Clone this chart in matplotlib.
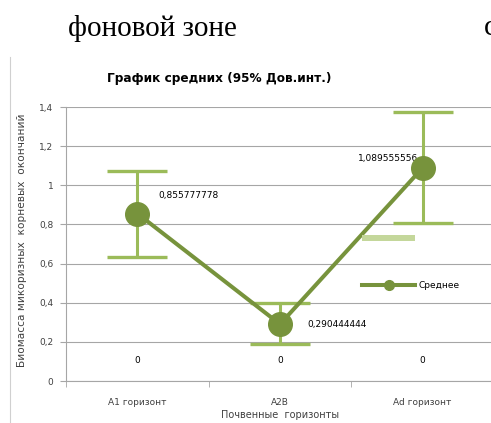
import matplotlib
matplotlib.use("Agg")
import matplotlib.pyplot as plt
from matplotlib.lines import Line2D
from matplotlib.patches import Patch

# Данные графика
categories = ["A1 горизонт", "A2B", "Ad горизонт"]
means = [0.855777778, 0.290444444, 1.089555556]
ci_low = [0.634, 0.189, 0.807]
ci_high = [1.073, 0.399, 1.372]
zeros = [0, 0, 0]
mean_labels = ["0,855777778", "0,290444444", "1,089555556"]
yticks = [0, 0.2, 0.4, 0.6, 0.8, 1.0, 1.2, 1.4]
ytick_labels = ["0", "0,2", "0,4", "0,6", "0,8", "1", "1,2", "1,4"]

W, H = 491, 423
DARK = "#77933C"
LIGHT = "#9BBB59"
GRID = "#a6a6a6"
TXT = "#404040"

fig = plt.figure(figsize=(W / 100, H / 100), dpi=100)


def px(x, y):
    return x / W, 1 - y / H


# текст документа сверху (справа обрезан, как в оригинале)
fig.text(*px(68, 28), "фоновой зоне", family="Liberation Serif", fontsize=21,
         va="center", ha="left", color="black")
fig.text(*px(484, 28), "с", family="Liberation Serif", fontsize=21,
         va="center", ha="left", color="black")

# рамка диаграммы (видна только левая граница)
fig.add_artist(Line2D([10 / W, 10 / W], [1 - 57 / H, 0], color="#d0d0d0", lw=0.8))

ax = fig.add_axes([66 / W, 1 - 381 / H, (494 - 66) / W, (381 - 107) / H])
x = list(range(len(categories)))

err_lo = [m - l for m, l in zip(means, ci_low)]
err_hi = [h - m for m, h in zip(means, ci_high)]
ax.errorbar(x, means, yerr=[err_lo, err_hi], fmt="none", ecolor=LIGHT,
            elinewidth=2.2, capsize=21.5, capthick=2.4, zorder=3)
ax.plot(x, means, color=DARK, lw=2.9, marker="o", markersize=17, zorder=4)

# подписи значений
offsets = [(15, 13), (20, 0), (-3, 7)]
aligns = ["left", "left", "right"]
for i, (m, lab) in enumerate(zip(means, mean_labels)):
    ax.annotate(lab, (x[i], m), xytext=offsets[i], textcoords="offset points",
                ha=aligns[i], va="center", fontsize=6.5, color="black")
for i, z in enumerate(zeros):
    ax.annotate("0", (x[i], z), xytext=(0, 15), textcoords="offset points",
                ha="center", va="center", fontsize=6.5, color="black")

ax.set_xlim(-0.5, 2.5)
ax.set_ylim(0, 1.4)
ax.set_yticks(yticks)
ax.set_yticklabels(ytick_labels, fontsize=6.5, color=TXT)
ax.set_xticks(x)
ax.set_xticklabels(categories, fontsize=6.5, color=TXT)
ax.set_xticks([-0.5, 0.5, 1.5, 2.5], minor=True)
ax.tick_params(axis="x", which="major", length=0, pad=12)
ax.tick_params(axis="x", which="minor", length=4, color=GRID, direction="out")
ax.tick_params(axis="y", length=4, color=GRID, direction="out", pad=5)
ax.grid(axis="y", color=GRID, lw=0.8)
ax.set_axisbelow(True)
for s in ["top", "right"]:
    ax.spines[s].set_visible(False)
for s in ["left", "bottom"]:
    ax.spines[s].set_color(GRID)
    ax.spines[s].set_linewidth(0.8)

fig.text(*px(219, 78), "График средних (95% Дов.инт.)", fontsize=8.7, fontweight="bold",
         ha="center", va="center", color="black")
fig.text(*px(22, 240), "Биомасса микоризных  корневых  окончаний", fontsize=7.6,
         rotation=90, ha="center", va="center", color=TXT)
fig.text(*px(280, 415), "Почвенные  горизонты", fontsize=7, ha="center",
         va="center", color=TXT)

handles = [Patch(facecolor="#c4d79b", edgecolor="none"),
           Line2D([], [], color=DARK, lw=2.9, marker="o", markersize=7)]
fig.legend(handles, ["", "Среднее"], loc="upper left",
           bbox_to_anchor=px(362, 234), frameon=False, fontsize=6.5,
           handlelength=5.9, handleheight=0.7, labelspacing=4.2,
           handletextpad=0.4, borderpad=0, borderaxespad=0)

fig.savefig("out.png", dpi=100)
